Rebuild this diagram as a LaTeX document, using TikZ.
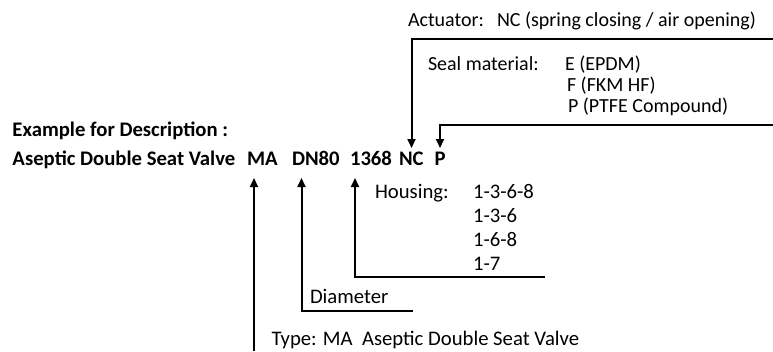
\documentclass[tikz,border=0pt]{standalone}
\usepackage{fontspec}
\setmainfont{Carlito}
\usetikzlibrary{arrows.meta}
\begin{document}
\begin{tikzpicture}[x=1pt,y=-1pt,
  txt/.style={anchor=base west,inner sep=0pt,outer sep=0pt,font=\fontsize{20.7}{24}\selectfont},
  stxt/.style={txt,font=\fontsize{20}{24}\selectfont},
  btxt/.style={txt,font=\fontsize{20.7}{24}\selectfont\bfseries},
  conn/.style={line width=2pt,line join=miter},
  arr/.style={conn,-{Triangle[width=8pt,length=9pt]}}]
\useasboundingbox (0,0) rectangle (773,351);
% headline
\node[btxt] (ex) at (12.5,136.5) {Example for Description :};
\node[btxt] (name) at (12.5,165) {Aseptic Double Seat Valve};
\node[btxt] (ma) at (247,165) {MA};
\node[btxt] (dn) at (292,165) {DN80};
\node[btxt] (hs) at (350,165) {1368};
\node[btxt] (nc) at (399,165) {NC};
\node[btxt] (p) at (434.5,165) {P};
% actuator
\node[stxt] (act) at (408,26) {Actuator:};
\node[stxt] (actv) at (497,26) {NC (spring closing / air opening)};
% seal
\node[stxt] (seal) at (428,70.5) {Seal material:};
\node[stxt] (s1) at (565,70.5) {E (EPDM)};
\node[stxt] (s2) at (567,91.5) {F (FKM HF)};
\node[stxt] (s3) at (568,112.5) {P (PTFE Compound)};
% housing
\node[txt] (hous) at (375,198) {Housing:};
\node[txt] (h1) at (473,198) {1-3-6-8};
\node[txt] (h2) at (473,222) {1-3-6};
\node[txt] (h3) at (473,246) {1-6-8};
\node[txt] (h4) at (473,270) {1-7};
% diameter and type
\node[txt] (dia) at (310,303) {Diameter};
\node[txt] (type) at (271.5,345) {Type: MA\ \ Aseptic Double Seat Valve};
% connector coordinates
\coordinate (up) at (0,178);
\coordinate (down) at (0,148);
\coordinate (maS) at (254,351);
\coordinate (dnE) at (413,310.5);
\coordinate (dnC) at (301.5,310.5);
\coordinate (hsE) at (545,277);
\coordinate (hsC) at (355,277);
\coordinate (actE) at (773,39);
\coordinate (actC) at (411.5,39);
\coordinate (pE) at (773,124.5);
\coordinate (pC) at (440,124.5);
% connectors
\draw[arr] (maS) -- (maS |- up);
\draw[arr] (dnE) -- (dnC) -- (dnC |- up);
\draw[arr] (hsE) -- (hsC) -- (hsC |- up);
\draw[arr] (actE) -- (actC) -- (actC |- down);
\draw[arr] (pE) -- (pC) -- (pC |- down);
\end{tikzpicture}
\end{document}
